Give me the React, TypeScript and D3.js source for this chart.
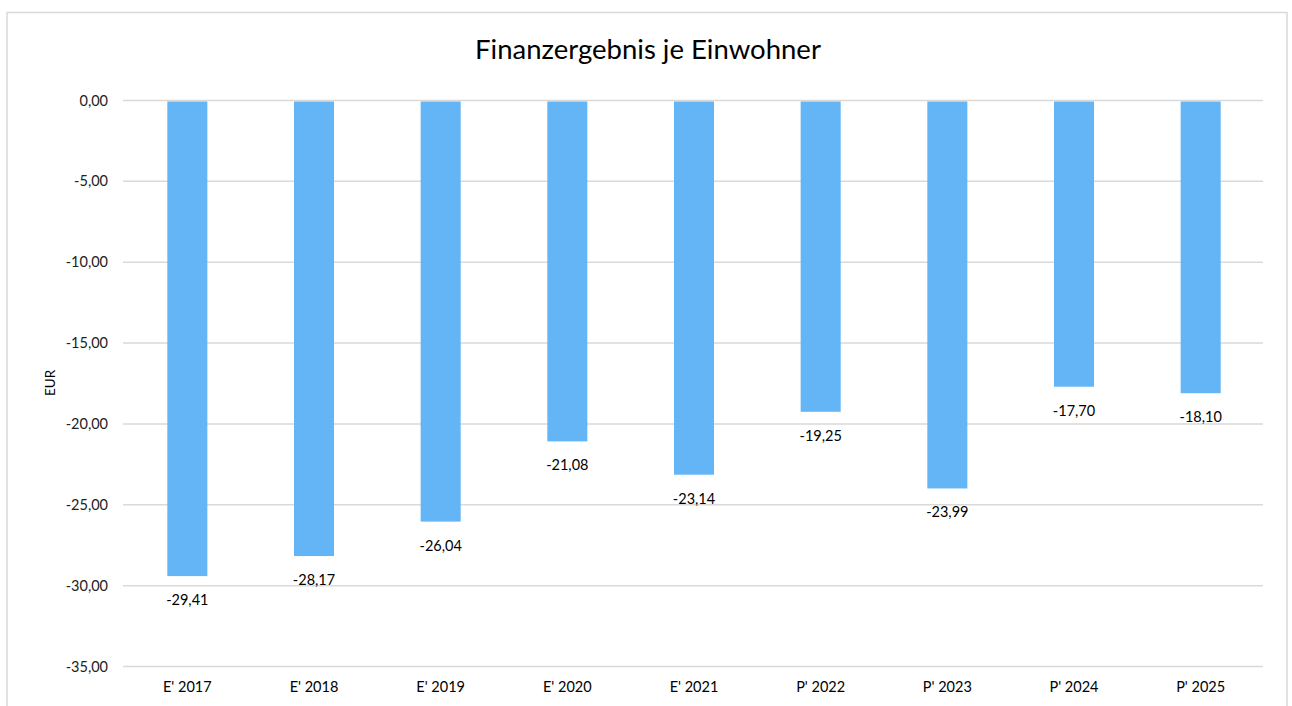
import React from "react";
import * as d3 from "d3";

const categories = ["E' 2017", "E' 2018", "E' 2019", "E' 2020", "E' 2021", "P' 2022", "P' 2023", "P' 2024", "P' 2025"];
const values = [-29.41, -28.17, -26.04, -21.08, -23.14, -19.25, -23.99, -17.7, -18.1];
const yTicks = [0, -5, -10, -15, -20, -25, -30, -35];
const title = "Finanzergebnis je Einwohner";
const yAxisTitle = "EUR";

const W = 1292;
const H = 706;
const FONT = "Lato, 'Open Sans', sans-serif";
const fmt = (v: number) => v.toFixed(2).replace(".", ",");

export default function App() {
  const x = d3.scaleBand<string>().domain(categories).range([124, 1264]).paddingInner(0.684).paddingOuter(0.342);
  const y = d3.scaleLinear().domain([-35, 0]).range([666.5, 100.5]);
  return (
    <svg width={W} height={H} style={{ position: "absolute", left: 0, top: 0 }}>
      <rect x={0} y={0} width={W} height={H} fill="#fff" />
      <rect x={7} y={12.5} width={1280} height={710} fill="#fff" stroke="#d9d9d9" strokeWidth={1.5} />
      <text x={648} y={59} textAnchor="middle" fontFamily={FONT} fontSize={27.5} fill="#000">{title}</text>
      {yTicks.map((t) => (
        <g key={t}>
          <line x1={123} x2={1263} y1={y(t)} y2={y(t)} stroke="#d9d9d9" strokeWidth={1.5} />
          <text x={108} y={y(t) + 5} textAnchor="end" fontFamily={FONT} fontSize={14.5} fill="#222">{fmt(t)}</text>
        </g>
      ))}
      <text transform={`translate(55,383) rotate(-90)`} textAnchor="middle" fontFamily={FONT} fontSize={13.5} fill="#000">{yAxisTitle}</text>
      {categories.map((c, i) => {
        const v = values[i];
        const bx = x(c)!;
        return (
          <g key={c}>
            <rect x={bx} y={y(0) + 1} width={x.bandwidth()} height={y(v) - y(0) - 1} fill="#64B5F6" />
            <text x={bx + x.bandwidth() / 2} y={y(v) + 29} textAnchor="middle" fontFamily={FONT} fontSize={14.5} fill="#000">{fmt(v)}</text>
            <text x={bx + x.bandwidth() / 2} y={692} textAnchor="middle" fontFamily={FONT} fontSize={14.5} fill="#000">{c}</text>
          </g>
        );
      })}
    </svg>
  );
}
